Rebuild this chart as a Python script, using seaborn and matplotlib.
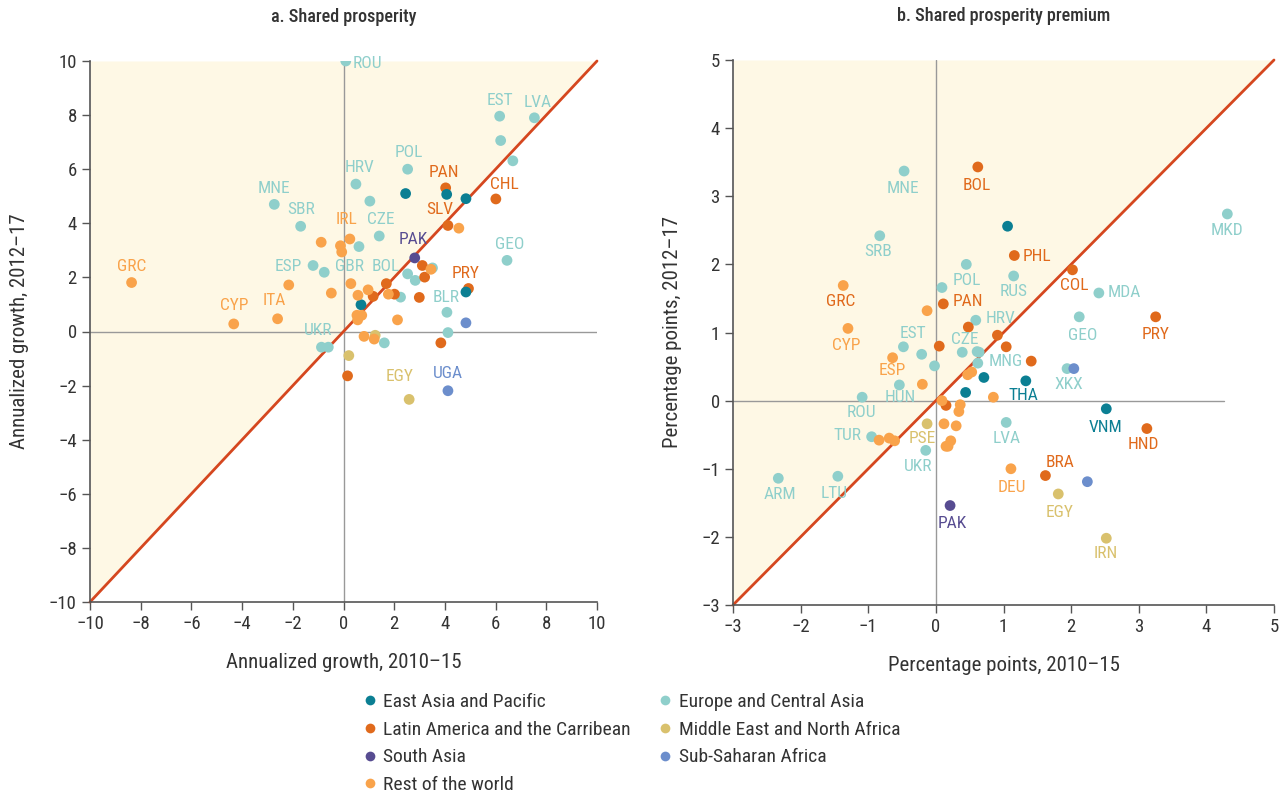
import matplotlib
matplotlib.use("Agg")
import matplotlib.pyplot as plt
from matplotlib import font_manager
from matplotlib.lines import Line2D
import numpy as np
import pandas as pd
import seaborn as sns

# region colours
colors = {
    "East Asia and Pacific": "#0B7F93",
    "Europe and Central Asia": "#8FCFCB",
    "Latin America and the Carribean": "#E06A1C",
    "Middle East and North Africa": "#D9C16D",
    "South Asia": "#574C91",
    "Sub-Saharan Africa": "#6C8ECC",
    "Rest of the world": "#F9A34B",
}
EAP, ECA, LAC = "East Asia and Pacific", "Europe and Central Asia", "Latin America and the Carribean"
MNA, SAR, SSA, ROW = "Middle East and North Africa", "South Asia", "Sub-Saharan Africa", "Rest of the world"

# ---- panel a: shared prosperity ----
a_x = [0.09, 6.16, 7.53, 6.2, 6.68, 2.53, 0.49, -2.73, 1.04, -1.69, 1.41, 0.61, 6.45, -1.2, -0.76,
       3.51, 2.53, 2.83, 2.25, 4.08, 4.12, -0.87, -0.6, 1.61,
       4.03, 6.01, 4.12, 3.11, 3.2, 1.69, 1.17, 2.01, 2.99, 4.93, 3.84, 0.16,
       2.45, 4.07, 4.83, 0.69, 4.83,
       2.81,
       4.83, 4.12,
       1.25, 0.21, 2.59,
       -8.36, -4.33, -2.6, -2.16, -0.88, -0.12, -0.07, 0.25, -0.48, 0.29, 0.57, 0.97, 0.53, 0.72, 0.56,
       1.77, 4.55, 2.13, 0.81, 1.21, 3.45]
a_y = [10.0, 7.96, 7.9, 7.06, 6.31, 6.0, 5.45, 4.7, 4.82, 3.89, 3.53, 3.14, 2.63, 2.44, 2.19,
       2.35, 2.13, 1.89, 1.27, 0.71, -0.04, -0.58, -0.58, -0.42,
       5.31, 4.9, 3.92, 2.44, 2.01, 1.77, 1.3, 1.38, 1.26, 1.59, -0.42, -1.64,
       5.1, 5.07, 4.91, 0.99, 1.46,
       2.72,
       0.32, -2.19,
       -0.14, -0.89, -2.51,
       1.81, 0.28, 0.47, 1.72, 3.3, 3.17, 2.94, 3.42, 1.42, 1.77, 1.34, 1.54, 0.6, 0.6, 0.43,
       1.38, 3.82, 0.43, -0.18, -0.28, 2.3]
a_region = [ECA] * 24 + [LAC] * 12 + [EAP] * 5 + [SAR] + [SSA] * 2 + [MNA] * 3 + [ROW] * 21

# labels: code, region (colour), position
a_labels = [("ROU", ECA, 0.95, 9.9), ("EST", ECA, 6.16, 8.55), ("LVA", ECA, 7.65, 8.48),
            ("POL", ECA, 2.59, 6.6), ("HRV", ECA, 0.64, 6.05), ("PAN", LAC, 3.96, 5.87),
            ("MNE", ECA, -2.73, 5.3), ("CHL", LAC, 6.33, 5.42), ("SBR", ECA, -1.69, 4.5),
            ("SLV", LAC, 3.8, 4.5), ("IRL", ROW, 0.12, 4.13), ("CZE", ECA, 1.48, 4.13),
            ("PAK", SAR, 2.75, 3.41), ("GEO", ECA, 6.55, 3.23), ("GRC", ROW, -8.36, 2.39),
            ("ESP", ECA, -2.17, 2.39), ("GBR", ECA, 0.23, 2.42), ("BOL", ECA, 1.67, 2.42),
            ("PRY", LAC, 4.83, 2.16), ("CYP", ROW, -4.33, 0.95), ("ITA", ROW, -2.73, 1.16),
            ("BLR", ECA, 4.03, 1.26), ("UKR", ECA, -1.0, 0.03), ("EGY", MNA, 2.21, -1.65),
            ("UGA", SSA, 4.12, -1.57)]

# ---- panel b: shared prosperity premium ----
b_x = [-0.47, -0.83, 4.31, 0.45, 0.09, 1.15, 2.41, 2.12, 0.59, -0.48, -0.21, 0.39, 0.61, 0.64,
       0.62, -0.02, 1.94, -0.54, -1.09, 1.04, -0.95, -0.15, -2.33, -1.45,
       0.62, 1.16, 2.02, 3.25, 0.11, 0.48, 0.91, 0.05, 1.04, 1.41, 0.15, 3.12, 1.62,
       1.06, 0.71, 1.33, 0.44, 2.52,
       0.21,
       2.04, 2.24,
       -0.13, 1.81, 2.52,
       -1.37, -1.3, -0.13, -0.64, -0.2, 0.47, 0.53, 0.85, 0.09, 0.36, 0.34, 0.12, 0.3,
       0.22, 0.18, 0.15, -0.84, -0.69, -0.61, 1.11]
b_y = [3.37, 2.42, 2.74, 2.0, 1.66, 1.83, 1.58, 1.23, 1.18, 0.79, 0.68, 0.71, 0.72, 0.71,
       0.55, 0.51, 0.47, 0.23, 0.05, -0.32, -0.53, -0.73, -1.14, -1.11,
       3.43, 2.13, 1.92, 1.23, 1.42, 1.08, 0.96, 0.8, 0.79, 0.58, -0.07, -0.41, -1.1,
       2.56, 0.34, 0.29, 0.12, -0.12,
       -1.54,
       0.47, -1.19,
       -0.34, -1.37, -2.02,
       1.69, 1.06, 1.32, 0.63, 0.24, 0.38, 0.42, 0.05, 0.0, -0.06, -0.16, -0.34, -0.37,
       -0.59, -0.67, -0.67, -0.58, -0.55, -0.59, -1.0]
b_region = [ECA] * 24 + [LAC] * 13 + [EAP] * 5 + [SAR] + [SSA] * 2 + [MNA] * 3 + [ROW] * 20

b_labels = [("MNE", ECA, -0.48, 3.12), ("BOL", LAC, 0.61, 3.16), ("MKD", ECA, 4.31, 2.5),
            ("SRB", ECA, -0.86, 2.19), ("PHL", LAC, 1.49, 2.12), ("POL", ECA, 0.46, 1.77),
            ("RUS", ECA, 1.15, 1.6), ("COL", LAC, 2.04, 1.69), ("MDA", ECA, 2.78, 1.59),
            ("GRC", LAC, -1.41, 1.46), ("PAN", LAC, 0.47, 1.46), ("HRV", ECA, 0.95, 1.21),
            ("GEO", ECA, 2.17, 0.96), ("PRY", LAC, 3.25, 0.97), ("EST", ECA, -0.34, 0.99),
            ("CYP", ROW, -1.32, 0.81), ("CZE", ECA, 0.43, 0.9), ("MNG", ECA, 1.04, 0.57),
            ("ESP", ROW, -0.65, 0.44), ("XKX", ECA, 1.97, 0.23), ("HUN", ECA, -0.53, 0.05),
            ("THA", EAP, 1.3, 0.07), ("ROU", ECA, -1.1, -0.18), ("VNM", EAP, 2.51, -0.39),
            ("TUR", ECA, -1.3, -0.51), ("PSE", MNA, -0.2, -0.55), ("LVA", ECA, 1.04, -0.55),
            ("HND", LAC, 3.07, -0.65), ("UKR", ECA, -0.26, -0.96), ("BRA", LAC, 1.83, -0.91),
            ("DEU", ROW, 1.12, -1.28), ("ARM", ECA, -2.3, -1.38), ("LTU", ECA, -1.5, -1.37),
            ("EGY", MNA, 1.83, -1.64), ("PAK", SAR, 0.24, -1.81), ("IRN", MNA, 2.51, -2.25)]

legend_order = [EAP, LAC, SAR, ROW, ECA, MNA, SSA]

sns.set_style("white")

# pick the narrowest font we have
font = "DejaVu Sans"
for cand in ["Roboto Condensed", "Liberation Sans Narrow", "Open Sans Condensed", "Roboto"]:
    try:
        font_manager.findfont(cand, fallback_to_default=False)
        font = cand
        break
    except ValueError:
        pass
plt.rcParams["font.family"] = [font, "DejaVu Sans"]

fig = plt.figure(figsize=(12.82, 7.96), dpi=100)
ax1 = fig.add_axes([90 / 1282, 1 - 602 / 796, 507 / 1282, 541 / 796])
ax2 = fig.add_axes([733 / 1282, 1 - 605 / 796, 541 / 1282, 545 / 796])

cream = "#FEF8E5"
diag = "#D5471F"
txt = "#333333"


def draw(ax, xs, ys, regs, labels, lo, hi, hline_end, title, xlabel, ylabel, ticks):
    ax.fill_between([lo, hi], [lo, hi], [hi, hi], color=cream, lw=0, zorder=0)
    ax.axhline(0, xmin=0, xmax=(hline_end - lo) / (hi - lo), color="#999999", lw=1, zorder=1)
    ax.axvline(0, color="#999999", lw=1, zorder=1)
    ax.plot([lo, hi], [lo, hi], color=diag, lw=2, zorder=2, clip_on=False)
    df = pd.DataFrame({"x": xs, "y": ys, "region": regs})
    sns.scatterplot(data=df, x="x", y="y", hue="region", palette=colors, s=60,
                    linewidth=0, legend=False, ax=ax, zorder=3)
    for code, reg, lx, ly in labels:
        ax.text(lx, ly, code, color=colors[reg], fontsize=12.5, ha="center", va="center", zorder=4)
    ax.set_xlim(lo, hi)
    ax.set_ylim(lo, hi)
    ax.set_xticks(ticks)
    ax.set_yticks(ticks)
    ax.tick_params(axis="both", which="both", direction="out", length=6, width=1,
                   color="#555555", labelsize=13.5, labelcolor=txt, bottom=True, left=True)
    for s in ["top", "right"]:
        ax.spines[s].set_visible(False)
    for s in ["left", "bottom"]:
        ax.spines[s].set_color("#555555")
        ax.spines[s].set_linewidth(1.2)
    ax.set_title(title, fontsize=13, color=txt, pad=28, fontweight="medium")
    ax.set_xlabel(xlabel, fontsize=15, color=txt, labelpad=14)
    ax.set_ylabel(ylabel, fontsize=15, color=txt, labelpad=14)


draw(ax1, a_x, a_y, a_region, a_labels, -10, 10, 10, "a. Shared prosperity",
     "Annualized growth, 2010–15", "Annualized growth, 2012–17", np.arange(-10, 11, 2))
draw(ax2, b_x, b_y, b_region, b_labels, -3, 5, 4.26, "b. Shared prosperity premium",
     "Percentage points, 2010–15", "Percentage points, 2012–17", np.arange(-3, 6, 1))

handles = [Line2D([0], [0], marker="o", lw=0, markersize=7, markerfacecolor=colors[r],
                  markeredgewidth=0, label=r) for r in legend_order]
fig.legend(handles=handles, loc="upper left", bbox_to_anchor=(364 / 1282, 1 - 693 / 796),
           ncol=2, frameon=False, fontsize=14, handlelength=0.6, handletextpad=0.4,
           columnspacing=1.45, labelspacing=0.5, labelcolor=txt, borderpad=0, borderaxespad=0)

fig.savefig("out.png", dpi=100)
